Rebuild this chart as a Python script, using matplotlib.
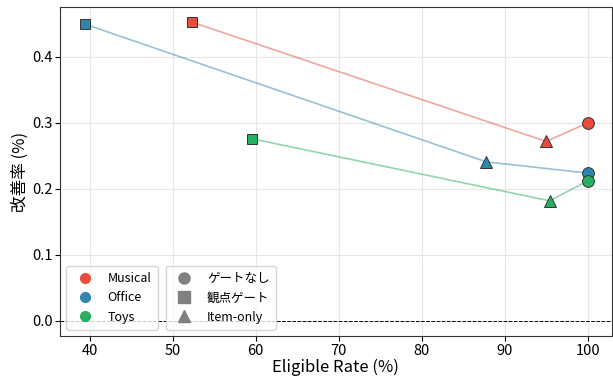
import matplotlib.pyplot as plt
from matplotlib.lines import Line2D

plt.rcParams['font.family'] = ['Noto Sans CJK JP', 'DejaVu Sans']

# data: 観点ゲート -> Item-only -> ゲートなし
categories = ['Musical', 'Office', 'Toys']
colors = ['#E74C3C', '#2E86AB', '#27AE60']
gate_labels = ['ゲートなし', '観点ゲート', 'Item-only']
gate_markers = ['o', 's', '^']

rate_none = [100.0, 100.0, 100.0]
rate_gate = [52.3, 39.4, 59.6]
rate_item = [95.0, 87.8, 95.4]

imp_none = [0.300, 0.224, 0.212]
imp_gate = [0.453, 0.450, 0.276]
imp_item = [0.272, 0.241, 0.182]

fig = plt.figure(figsize=(6.13, 3.81), dpi=100)
ax = fig.add_axes([0.098, 0.118, 0.900, 0.864])

for i in range(len(categories)):
    xs = [rate_gate[i], rate_item[i], rate_none[i]]
    ys = [imp_gate[i], imp_item[i], imp_none[i]]
    ax.plot(xs, ys, color=colors[i], alpha=0.5, linewidth=1.2, zorder=2)
    for x, y, m in zip(xs, ys, ['s', '^', 'o']):
        ax.plot(x, y, marker=m, color=colors[i], markersize=8.5 if m != 's' else 7.5,
                markeredgecolor='#333333', markeredgewidth=0.7, linestyle='none', zorder=3)

ax.axhline(0, color='black', linestyle='--', linewidth=0.7, zorder=1)

ax.set_xlim(36.45, 102.9)
ax.set_ylim(-0.023, 0.476)
ax.set_xticks([40, 50, 60, 70, 80, 90, 100])
ax.set_yticks([0.0, 0.1, 0.2, 0.3, 0.4])
ax.grid(True, color='#e6e6e6', linewidth=0.8)
ax.set_axisbelow(True)
ax.tick_params(labelsize=10.5, pad=2)
for s in ax.spines.values():
    s.set_color('#333333')
ax.set_xlabel('Eligible Rate (%)', fontsize=12, labelpad=1)
ax.set_ylabel('改善率 (%)', fontsize=12, labelpad=2)

h1 = [Line2D([], [], marker='o', color=c, linestyle='none', markersize=7) for c in colors]
leg1 = ax.legend(h1, categories, loc='lower left', bbox_to_anchor=(0.0, 0.0),
                 fontsize=9, handletextpad=0.8, borderpad=0.5, labelspacing=0.5)
ax.add_artist(leg1)
h2 = [Line2D([], [], marker=m, color='gray', linestyle='none', markersize=8) for m in gate_markers]
ax.legend(h2, gate_labels, loc='lower left', bbox_to_anchor=(0.18, 0.0),
          fontsize=9, handletextpad=0.8, borderpad=0.5, labelspacing=0.5)

fig.savefig('out.png', dpi=100)
